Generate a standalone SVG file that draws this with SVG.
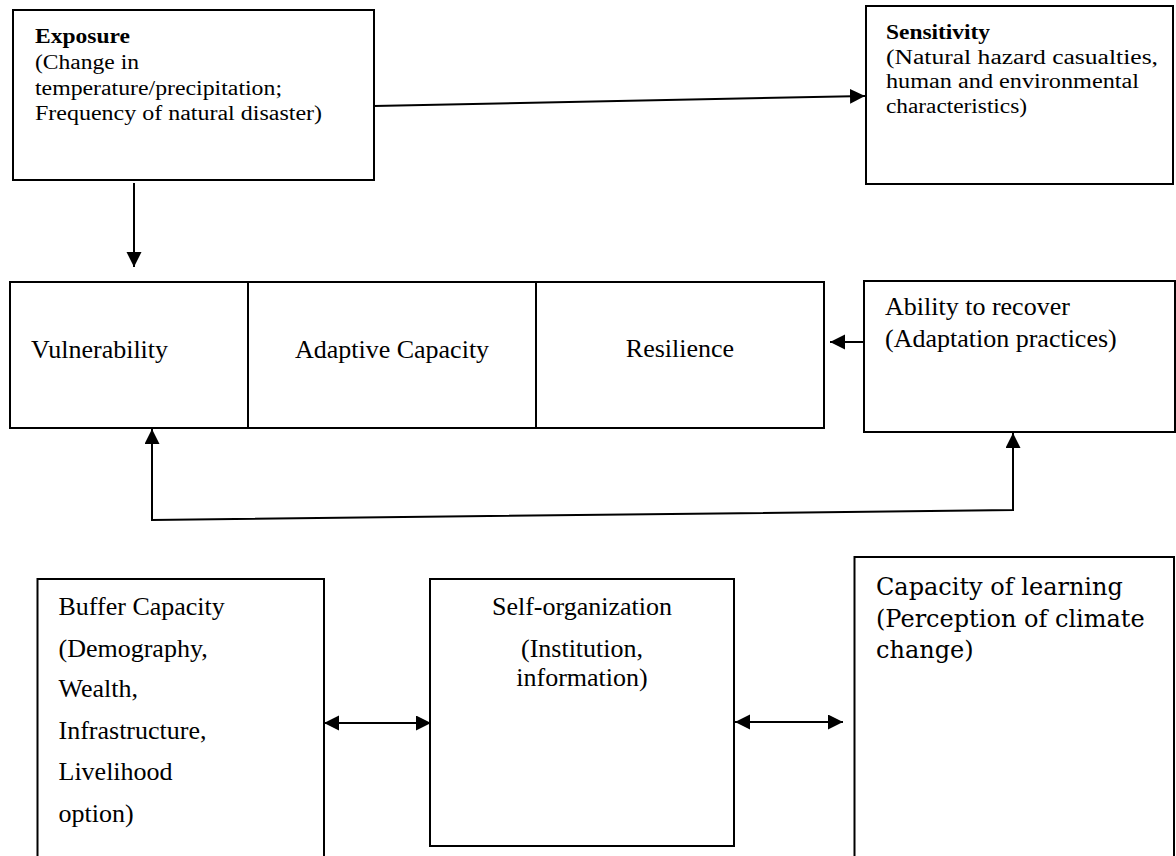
<svg xmlns="http://www.w3.org/2000/svg" width="1176" height="856" viewBox="0 0 1176 856">
<style>
.box{fill:#fff;stroke:#000;stroke-width:2}
.t{font-family:"Liberation Serif","Times New Roman",serif;fill:#000}
.s{font-size:20px}
.b{font-weight:bold}
.m{font-size:26px}
.c{font-family:"DejaVu Serif",serif;font-size:24px;fill:#000}
.ln{fill:none;stroke:#000;stroke-width:2}
</style>
<defs>
<marker id="ah" markerUnits="userSpaceOnUse" markerWidth="16" markerHeight="16" refX="15" refY="7.5" orient="auto-start-reverse">
<path d="M0,0 L15,7.5 L0,15 z" fill="#000"/>
</marker>
</defs>
<rect width="1176" height="856" fill="#fff"/>

<g id="exposure">
<rect class="box" x="13" y="10" width="361" height="170"/>
<text class="t s b" x="35" y="43" textLength="95" lengthAdjust="spacingAndGlyphs">Exposure</text>
<text class="t s" x="35" y="69" textLength="104" lengthAdjust="spacingAndGlyphs">(Change in</text>
<text class="t s" x="35" y="95" textLength="247" lengthAdjust="spacingAndGlyphs">temperature/precipitation;</text>
<text class="t s" x="35" y="120" textLength="287" lengthAdjust="spacingAndGlyphs">Frequency of natural disaster)</text>
</g>

<g id="sensitivity">
<rect class="box" x="866" y="6" width="307" height="178"/>
<text class="t s b" x="886" y="39" textLength="104" lengthAdjust="spacingAndGlyphs">Sensitivity</text>
<text class="t s" x="886" y="64" textLength="272" lengthAdjust="spacingAndGlyphs">(Natural hazard casualties,</text>
<text class="t s" x="886" y="88" textLength="253" lengthAdjust="spacingAndGlyphs">human and environmental</text>
<text class="t s" x="886" y="113" textLength="141" lengthAdjust="spacingAndGlyphs">characteristics)</text>
</g>

<g id="vulnerability">
<rect class="box" x="10" y="282" width="238" height="146"/>
<text class="t m" x="31" y="358">Vulnerability</text>
</g>

<g id="adaptive-capacity">
<rect class="box" x="248" y="282" width="288" height="146"/>
<text class="t m" x="392" y="358" text-anchor="middle">Adaptive Capacity</text>
</g>

<g id="resilience">
<rect class="box" x="536" y="282" width="288" height="146"/>
<text class="t m" x="680" y="357" text-anchor="middle">Resilience</text>
</g>

<g id="ability">
<rect class="box" x="864" y="281" width="311" height="151"/>
<text class="t m" x="885" y="315">Ability to recover</text>
<text class="t m" x="885" y="347">(Adaptation practices)</text>
</g>

<g id="buffer">
<rect class="box" x="37.5" y="579" width="286.5" height="290"/>
<text class="t m" x="58.5" y="615">Buffer Capacity</text>
<text class="t m" x="58.5" y="657">(Demography,</text>
<text class="t m" x="58.5" y="697">Wealth,</text>
<text class="t m" x="58.5" y="739">Infrastructure,</text>
<text class="t m" x="58.5" y="780">Livelihood</text>
<text class="t m" x="58.5" y="822">option)</text>
</g>

<g id="self-organization">
<rect class="box" x="430" y="579" width="304" height="267"/>
<text class="t m" x="582" y="615" text-anchor="middle">Self-organization</text>
<text class="t m" x="582" y="657" text-anchor="middle">(Institution,</text>
<text class="t m" x="582" y="686" text-anchor="middle">information)</text>
</g>

<g id="learning">
<rect class="box" x="854.5" y="557" width="319.5" height="312"/>
<text class="c" x="876" y="595">Capacity of learning</text>
<text class="c" x="876" y="627">(Perception of climate</text>
<text class="c" x="876" y="658">change)</text>
</g>

<g id="connectors">
<line class="ln" x1="374" y1="106" x2="865" y2="96" marker-end="url(#ah)"/>
<line class="ln" x1="134" y1="183" x2="134" y2="267" marker-end="url(#ah)"/>
<line class="ln" x1="864" y1="342" x2="830" y2="342" marker-end="url(#ah)"/>
<polyline class="ln" points="152,429 152,520 1013,510 1013,433" marker-start="url(#ah)" marker-end="url(#ah)"/>
<line class="ln" x1="324" y1="723" x2="431" y2="723" marker-start="url(#ah)" marker-end="url(#ah)"/>
<line class="ln" x1="735" y1="722" x2="843" y2="722" marker-start="url(#ah)" marker-end="url(#ah)"/>
</g>
</svg>
